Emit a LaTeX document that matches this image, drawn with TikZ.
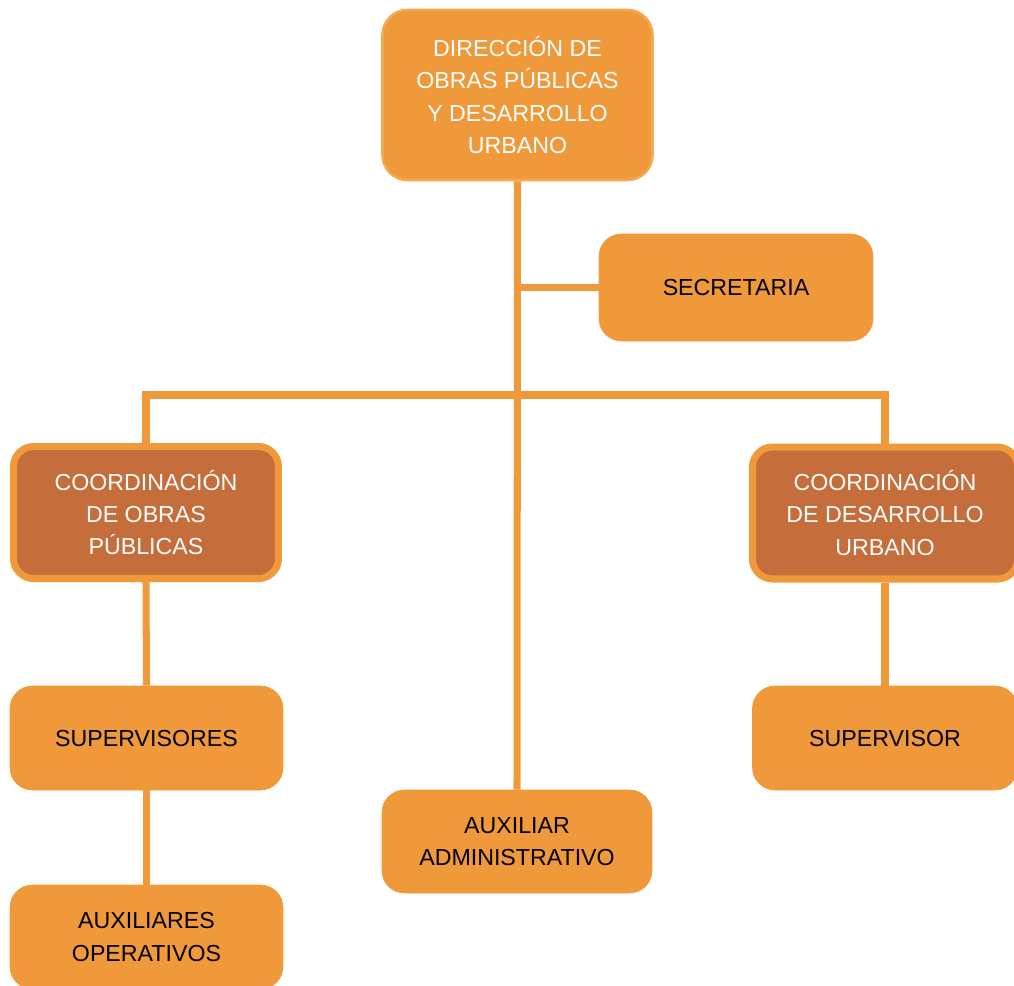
\documentclass[tikz,border=0pt]{standalone}
\usepackage{fontspec}
\setmainfont{Liberation Sans}
\usepackage{xcolor}
\usepackage{tikz}
\usetikzlibrary{positioning}
\definecolor{naranja}{RGB}{240,153,58}
\definecolor{naranjaclaro}{RGB}{245,168,80}
\definecolor{terracota}{RGB}{198,109,60}
\tikzset{
    cajanodo/.style = {rectangle, rounded corners=0.45cm, fill=naranja, draw=naranja, align=center, text=black, minimum width=5.4cm, minimum height=2.1cm, inner sep=2pt},
    cajadir/.style = {rectangle, rounded corners=0.5cm, fill=naranja, draw=naranjaclaro, line width=1.5pt, align=center, text=white, minimum width=5.4cm, minimum height=3.4cm},
    cajacoord/.style = {rectangle, rounded corners=0.4cm, fill=terracota, draw=naranja, line width=4pt, align=center, text=white, minimum width=5.3cm, minimum height=2.64cm},
}

\begin{document}
\begin{tikzpicture}[
	x=0.02cm, y=-0.02cm,
	font=\fontsize{13.2}{18.3}\selectfont
]
\tikzset{
    linea/.style = {-, draw=naranja, line width=4pt},
}
\useasboundingbox (0,0) rectangle (1014,985);
\node[cajadir] at (517.5,95) (dir) {DIRECCIÓN DE\\OBRAS PÚBLICAS\\Y DESARROLLO\\URBANO};
\node[cajanodo, minimum width=5.48cm, minimum height=2.14cm] at (736,287.5) (sec) {SECRETARIA};
\node[cajacoord] at (146,512.5) (cop) {COORDINACIÓN\\DE OBRAS\\PÚBLICAS};
\node[cajacoord] at (885,513) (cdu) {COORDINACIÓN\\DE DESARROLLO\\URBANO};
\node[cajanodo, minimum width=5.46cm, minimum height=2.08cm] at (146.5,738) (sups) {SUPERVISORES};
\node[cajanodo, minimum width=5.3cm, minimum height=2.08cm] at (885,738) (sup) {SUPERVISOR};
\node[cajanodo, minimum width=5.4cm, minimum height=2.06cm] at (517,841.5) (aux) {AUXILIAR\\ADMINISTRATIVO};
\node[cajanodo, minimum width=5.46cm, minimum height=2.08cm] at (146.5,937) (auxop) {AUXILIARES\\OPERATIVOS};
\coordinate (barra) at (517,395);
%
\draw[linea] (dir.south) -- (aux.north);
\draw[linea] (dir.south |- sec.west) -- (sec.west);
\draw[linea] (cop.north) |- (barra) -| (cdu.north);
%
\draw[linea] (cop.south) -- (sups.north);
\draw[linea] (sups.south) -- (auxop.north);
\draw[linea] (cdu.south) -- (sup.north);
\end{tikzpicture}
\end{document}
